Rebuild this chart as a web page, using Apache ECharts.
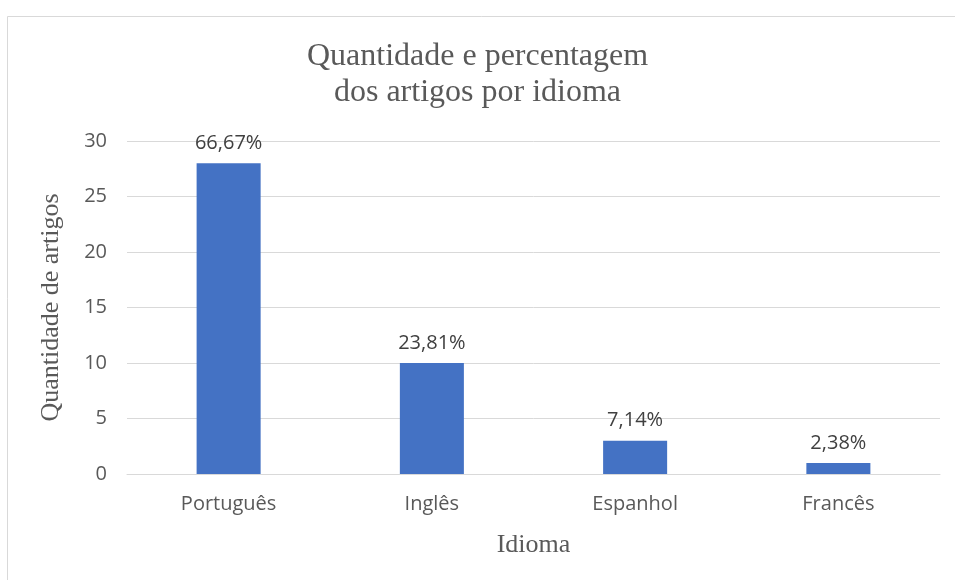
<!DOCTYPE html>
<html><head><meta charset="utf-8">
<script src="https://cdn.jsdelivr.net/npm/echarts@6/dist/echarts.min.js"></script>
<style>html,body{margin:0;padding:0;background:#fff}#c{width:955px;height:580px}</style>
</head><body><div id="c"></div>
<script>
const categories = ['Português', 'Inglês', 'Espanhol', 'Francês'];
const counts = [28, 10, 3, 1];
const percentLabels = ['66,67%', '23,81%', '7,14%', '2,38%'];
const yTicks = [0, 5, 10, 15, 20, 25, 30];

const chart = echarts.init(document.getElementById('c'), null, {renderer: 'canvas'});
const serif = '"Liberation Serif", "DejaVu Serif", serif';
const sans = '"Open Sans", "Noto Sans", sans-serif';
chart.setOption({
  animation: false,
  backgroundColor: '#fff',
  graphic: [{
    type: 'rect', left: 5, top: 14,
    shape: {width: 960, height: 600},
    style: {fill: 'none', stroke: '#D9D9D9', lineWidth: 1}
  }],
  title: {
    text: 'Quantidade e percentagem\ndos artigos por idioma',
    left: 'center', top: 34,
    textStyle: {fontFamily: serif, fontSize: 32, fontWeight: 'normal', color: '#595959', lineHeight: 36}
  },
  grid: {left: 127, right: 15, top: 141, bottom: 106},
  xAxis: {
    type: 'category', data: categories,
    name: 'Idioma', nameLocation: 'middle', nameGap: 58,
    nameTextStyle: {fontFamily: serif, fontSize: 26, color: '#595959'},
    axisLine: {lineStyle: {color: '#D9D9D9', width: 1}},
    axisTick: {show: false},
    axisLabel: {fontFamily: sans, fontSize: 20, color: '#595959', margin: 20}
  },
  yAxis: {
    type: 'value', min: 0, max: 30, interval: 5,
    name: 'Quantidade de artigos', nameLocation: 'middle', nameGap: 63,
    nameTextStyle: {fontFamily: serif, fontSize: 26, color: '#595959'},
    axisLine: {show: false}, axisTick: {show: false},
    axisLabel: {fontFamily: sans, fontSize: 20, color: '#595959', margin: 20,
      formatter: v => yTicks.includes(v) ? String(v) : ''},
    splitLine: {lineStyle: {color: '#D9D9D9', width: 1}}
  },
  series: [{
    type: 'bar', data: counts, barWidth: '31.5%',
    itemStyle: {color: '#4472C4'},
    label: {show: true, position: 'top', distance: 10,
      fontFamily: sans, fontSize: 20, color: '#404040',
      formatter: p => percentLabels[p.dataIndex]}
  }]
});
</script></body></html>
